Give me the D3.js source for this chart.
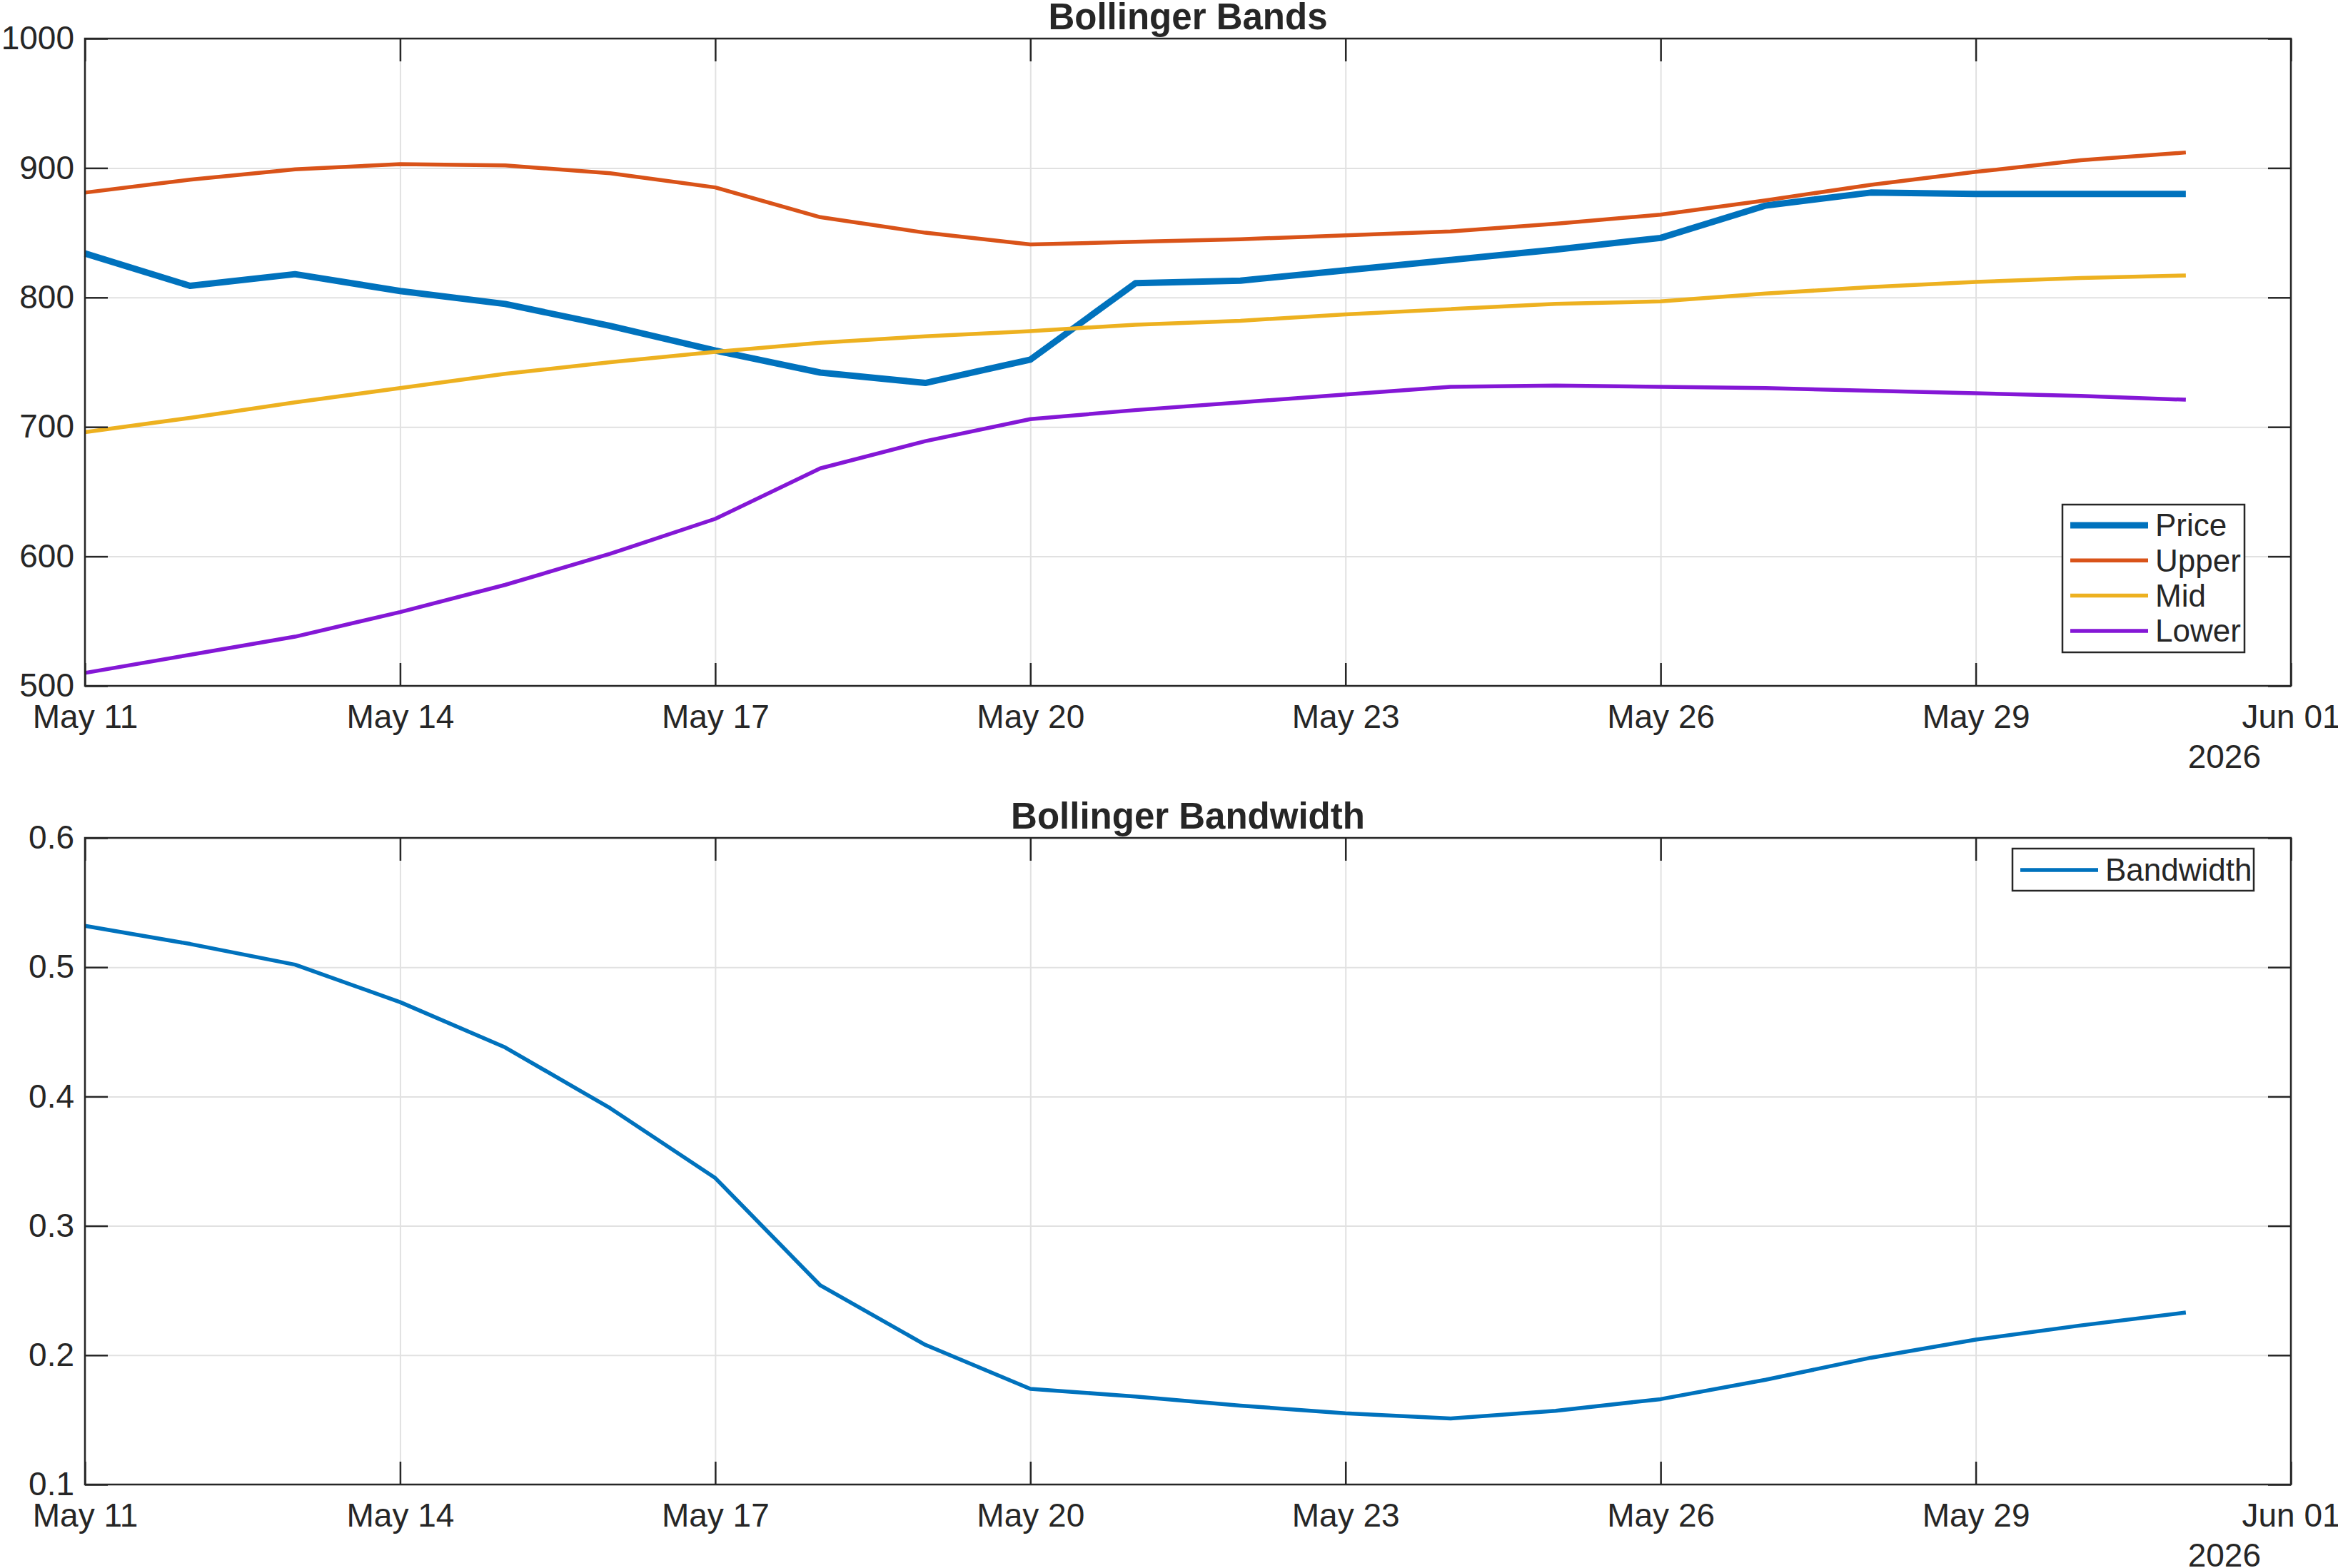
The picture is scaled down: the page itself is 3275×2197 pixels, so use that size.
<!DOCTYPE html>
<html>
<head>
<meta charset="utf-8">
<script src="https://cdn.jsdelivr.net/npm/d3@7"></script>
<style>
    body { margin: 0; background: #fff; }
    svg { display: block; font-family: "Liberation Sans", Arial, sans-serif; }
</style>
</head>
<body>
<div id="chart"></div>
<script>
// values
const dates = ["2026-05-11", "2026-05-12", "2026-05-13", "2026-05-14", "2026-05-15", "2026-05-16", "2026-05-17",
    "2026-05-18", "2026-05-19", "2026-05-20", "2026-05-21", "2026-05-22", "2026-05-23", "2026-05-24",
    "2026-05-25", "2026-05-26", "2026-05-27", "2026-05-28", "2026-05-29", "2026-05-30", "2026-05-31"];
const price = [834, 809, 818, 805, 795, 778, 759, 742, 734, 752, 811, 813, 821, 829, 837, 846, 871, 881, 880, 880, 880];
const upper = [881, 891, 899, 903, 902, 896, 885, 862, 850, 841, 843, 845, 848, 851, 857, 864, 875, 887, 897, 906, 912];
const mid = [696, 707, 719, 730, 741, 750, 758, 765, 770, 774, 779, 782, 787, 791, 795, 797, 803, 808, 812, 815, 817];
const lower = [510, 524, 538, 557, 578, 602, 629, 668, 689, 706, 713, 719, 725, 731, 732, 731, 730, 728, 726, 724, 721];
const bandwidth = [0.532, 0.518, 0.502, 0.473, 0.438, 0.391, 0.337, 0.254, 0.208, 0.174, 0.168, 0.161, 0.155, 0.151,
    0.157, 0.166, 0.181, 0.198, 0.212, 0.223, 0.233];

const xTicks = ["2026-05-11", "2026-05-14", "2026-05-17", "2026-05-20", "2026-05-23", "2026-05-26", "2026-05-29", "2026-06-01"];
const xRange = ["2026-05-11", "2026-06-01"];
const yearLabel = "2026";
const priceTicks = [500, 600, 700, 800, 900, 1000];
const bwTicks = [0.1, 0.2, 0.3, 0.4, 0.5, 0.6];

const width = 3275, height = 2197;
const ink = "#262626";
const fontSize = 46;
const tickLen = 32;
const parse = d3.utcParse("%Y-%m-%d");

const svg = d3.select("#chart").append("svg")
    .attr("width", width)
    .attr("height", height)
    .attr("viewBox", [0, 0, width, height]);

const x = d3.scaleUtc()
    .domain(xRange.map(parse))
    .range([119, 3209]);

function drawPanel({ top, bottom, title, yDomain, yTicks, yFormat, series, legend }) {
    const y = d3.scaleLinear().domain(yDomain).range([bottom, top]);
    const g = svg.append("g");
    const tv = xTicks.map(parse);

    // grid
    g.append("g")
        .attr("transform", `translate(0,${bottom})`)
        .call(d3.axisBottom(x).tickValues(tv).tickSize(-(bottom - top)).tickFormat(""))
        .call(a => a.select(".domain").remove())
        .call(a => a.selectAll("line").attr("stroke", "#e1e1e1").attr("stroke-width", 2));
    g.append("g")
        .attr("transform", `translate(${x.range()[0]},0)`)
        .call(d3.axisLeft(y).tickValues(yTicks).tickSize(-(x.range()[1] - x.range()[0])).tickFormat(""))
        .call(a => a.select(".domain").remove())
        .call(a => a.selectAll("line").attr("stroke", "#e1e1e1").attr("stroke-width", 2));

    // data lines
    series.forEach(s => {
        g.append("path")
            .datum(s.values)
            .attr("fill", "none")
            .attr("stroke", s.color)
            .attr("stroke-width", s.width)
            .attr("stroke-linejoin", "round")
            .attr("d", d3.line()
                .x((d, i) => x(parse(dates[i])))
                .y(d => y(d)));
    });

    // axes with inward ticks on all four sides
    const styleAxis = a => {
        a.select(".domain").remove();
        a.selectAll("line").attr("stroke", ink).attr("stroke-width", 2.5);
        a.selectAll("text").attr("fill", ink).attr("font-size", fontSize).attr("font-family", null);
    };
    g.append("g")
        .attr("transform", `translate(0,${bottom})`)
        .call(d3.axisBottom(x).tickValues(tv).tickSizeInner(-tickLen).tickSizeOuter(0).tickPadding(26)
            .tickFormat(d3.utcFormat("%b %d")))
        .call(styleAxis);
    g.append("g")
        .attr("transform", `translate(0,${top})`)
        .call(d3.axisTop(x).tickValues(tv).tickSizeInner(-tickLen).tickSizeOuter(0).tickFormat(""))
        .call(styleAxis);
    g.append("g")
        .attr("transform", `translate(${x.range()[0]},0)`)
        .call(d3.axisLeft(y).tickValues(yTicks).tickSizeInner(-tickLen).tickSizeOuter(0).tickPadding(15)
            .tickFormat(yFormat))
        .call(styleAxis);
    g.append("g")
        .attr("transform", `translate(${x.range()[1]},0)`)
        .call(d3.axisRight(y).tickValues(yTicks).tickSizeInner(-tickLen).tickSizeOuter(0).tickFormat(""))
        .call(styleAxis);

    g.append("rect")
        .attr("x", x.range()[0])
        .attr("y", top)
        .attr("width", x.range()[1] - x.range()[0])
        .attr("height", bottom - top)
        .attr("fill", "none")
        .attr("stroke", ink)
        .attr("stroke-width", 2.5);

    g.append("text")
        .attr("x", x.range()[1] - 42)
        .attr("y", bottom + 115)
        .attr("text-anchor", "end")
        .attr("fill", ink)
        .attr("font-size", fontSize)
        .text(yearLabel);

    g.append("text")
        .attr("x", (x.range()[0] + x.range()[1]) / 2)
        .attr("y", top - 13)
        .attr("text-anchor", "middle")
        .attr("fill", ink)
        .attr("font-size", 51)
        .attr("font-weight", "bold")
        .text(title);

    // legend
    const lg = g.append("g").attr("transform", `translate(${legend.x},${legend.y})`);
    lg.append("rect")
        .attr("width", legend.w)
        .attr("height", legend.h)
        .attr("fill", "#fff")
        .attr("stroke", ink)
        .attr("stroke-width", 2.5);
    series.forEach((s, i) => {
        const cy = legend.first + i * 49.3;
        lg.append("line")
            .attr("x1", 11).attr("x2", 120)
            .attr("y1", cy).attr("y2", cy)
            .attr("stroke", s.color)
            .attr("stroke-width", s.width);
        lg.append("text")
            .attr("x", 130)
            .attr("y", cy)
            .attr("dy", "0.35em")
            .attr("fill", ink)
            .attr("font-size", 44)
            .text(s.name);
    });
}

drawPanel({
    top: 54, bottom: 961,
    title: "Bollinger Bands",
    yDomain: [500, 1000], yTicks: priceTicks, yFormat: d3.format("d"),
    series: [
        { name: "Price", values: price, color: "#0072BD", width: 9 },
        { name: "Upper", values: upper, color: "#D95319", width: 5.5 },
        { name: "Mid", values: mid, color: "#EDB120", width: 5.5 },
        { name: "Lower", values: lower, color: "#8417D6", width: 5.5 }
    ],
    legend: { x: 2889, y: 707, w: 255, h: 207, first: 29 }
});

drawPanel({
    top: 1174, bottom: 2080,
    title: "Bollinger Bandwidth",
    yDomain: [0.1, 0.6], yTicks: bwTicks, yFormat: d3.format(".1f"),
    series: [
        { name: "Bandwidth", values: bandwidth, color: "#0072BD", width: 5.5 }
    ],
    legend: { x: 2819, y: 1189, w: 338, h: 59, first: 30 }
});
</script>
</body>
</html>
